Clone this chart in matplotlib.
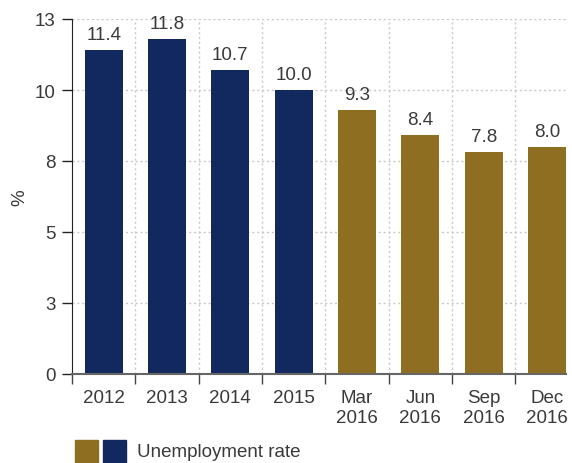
import numpy as np
import matplotlib
matplotlib.use("Agg")
import matplotlib.pyplot as plt
from matplotlib.patches import Rectangle

plt.rcParams['font.family'] = ['Liberation Sans', 'DejaVu Sans']

categories = ["2012", "2013", "2014", "2015", "Mar\n2016", "Jun\n2016", "Sep\n2016", "Dec\n2016"]
rates = [11.4, 11.8, 10.7, 10.0, 9.3, 8.4, 7.8, 8.0]
labels = ["11.4", "11.8", "10.7", "10.0", "9.3", "8.4", "7.8", "8.0"]
yticks = [0, 2.5, 5, 7.5, 10, 12.5]
ytick_labels = ["0", "3", "5", "8", "10", "13"]
legend_label = "Unemployment rate"

NAVY = "#12295f"
GOLD = "#8e6e21"
TEXT = "#3a3a3a"
FS = 13.5
colors = [NAVY] * 4 + [GOLD] * 4

W, H = 572, 464
fig = plt.figure(figsize=(W / 100, H / 100), dpi=100)
ax = fig.add_axes([72 / W, 89 / H, (566 - 72) / W, 355 / H])

x = np.arange(len(categories))
ax.bar(x, rates, width=0.6, color=colors, zorder=3)
for xi, v, s in zip(x, rates, labels):
    ax.text(xi, v + 0.25, s, ha="center", va="bottom", fontsize=FS, color=TEXT)

ax.set_xlim(-0.5, 7.3)
ax.set_ylim(0, 12.5)

ax.set_yticks(yticks)
ax.set_yticklabels(ytick_labels, fontsize=FS, color=TEXT)
ax.set_xticks(x)
ax.set_xticklabels(categories, fontsize=FS, color=TEXT, linespacing=1.2)
ax.tick_params(axis="x", length=0, pad=11)
ax.tick_params(axis="y", length=7, width=1, color="#222222", pad=5)

# boundary ticks between categories
ax.set_xticks(np.arange(-0.5, 7.0, 1.0), minor=True)
ax.tick_params(axis="x", which="minor", length=7, width=1, color="#444444")

# dotted grid
for yv in yticks[1:]:
    ax.axhline(yv, color="#c8c8c8", lw=1, ls=(0, (1.5, 2)), zorder=1)
for xb in np.arange(0.5, 7.0, 1.0):
    ax.axvline(xb, color="#c8c8c8", lw=1, ls=(0, (1.5, 2)), zorder=1)

for side in ["top", "right"]:
    ax.spines[side].set_visible(False)
ax.spines["left"].set_color("#222222")
ax.spines["bottom"].set_color("#666666")
ax.spines["bottom"].set_linewidth(1.5)
ax.spines["bottom"].set_zorder(4)

ax.set_ylabel("%", fontsize=FS, color=TEXT)
ax.yaxis.set_label_coords(-44 / (566 - 72), 0.5)

# legend: two colour swatches and one label
for x0, c in [(75, GOLD), (103, NAVY)]:
    fig.add_artist(Rectangle((x0 / W, 0), 23 / W, 23 / H, color=c, transform=fig.transFigure))
fig.text(137 / W, 11 / H, legend_label, fontsize=FS, color=TEXT, va="center", ha="left")

fig.savefig("out.png", dpi=100)
